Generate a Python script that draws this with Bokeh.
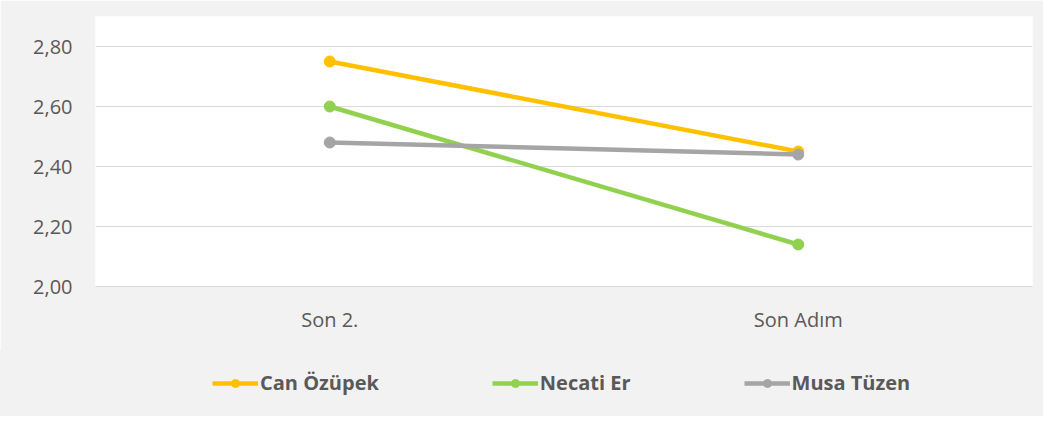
from bokeh.plotting import figure
from bokeh.layouts import column
from bokeh.models import (FactorRange, Range1d, FixedTicker, Legend, LegendItem)
from bokeh.embed import file_html
from bokeh.resources import INLINE

categories = ["Son 2.", "Son Adım"]
series_names = ["Can Özüpek", "Necati Er", "Musa Tüzen"]
can_ozupek = [2.75, 2.45]
necati_er = [2.60, 2.14]
musa_tuzen = [2.48, 2.44]
series_values = [can_ozupek, necati_er, musa_tuzen]
colors = ["#FFC000", "#92D050", "#A5A5A5"]
y_ticks = [2.0, 2.2, 2.4, 2.6, 2.8]
y_tick_labels = ["2,00", "2,20", "2,40", "2,60", "2,80"]

FONT = "Open Sans"
TXT = "#595959"
BG = "#F2F2F2"

p = figure(width=1043, height=350, output_backend="svg", toolbar_location=None,
           x_range=FactorRange(*categories, range_padding=0),
           y_range=Range1d(2.0, 2.9),
           min_border_left=95, min_border_right=11, min_border_top=16,
           min_border_bottom=64)
p.background_fill_color = "white"
p.border_fill_color = BG
p.outline_line_color = None

for name, vals, col in zip(series_names, series_values, colors):
    p.line(categories, vals, line_color=col, line_width=4.5)
    p.scatter(categories, vals, size=11, fill_color=col, line_color=col)

p.yaxis.ticker = FixedTicker(ticks=y_ticks)
p.yaxis.major_label_overrides = dict(zip(y_ticks, y_tick_labels))
p.yaxis.axis_line_color = None
p.yaxis.major_tick_line_color = None
p.yaxis.minor_tick_line_color = None
p.yaxis.major_label_standoff = 17
p.yaxis.major_label_text_font = FONT
p.yaxis.major_label_text_font_size = "20px"
p.yaxis.major_label_text_color = TXT

p.xaxis.axis_line_color = "#D9D9D9"
p.xaxis.axis_line_width = 1
p.xaxis.major_tick_line_color = None
p.xaxis.minor_tick_line_color = None
p.xaxis.major_label_standoff = 13
p.xaxis.major_label_text_font = FONT
p.xaxis.major_label_text_font_size = "20px"
p.xaxis.major_label_text_color = TXT

p.xgrid.grid_line_color = None
p.ygrid.grid_line_color = "#D9D9D9"
p.ygrid.grid_line_width = 1

# legend strip below the chart (series drawn out of its visible range,
# only their legend glyphs show)
lg = figure(width=1043, height=66, output_backend="svg", toolbar_location=None,
            x_range=FactorRange(*categories, range_padding=0),
            y_range=Range1d(0, 1),
            min_border_left=95, min_border_right=11, min_border_top=0,
            min_border_bottom=0)
lg.axis.visible = False
lg.grid.visible = False
lg.outline_line_color = None
lg.background_fill_color = None
lg.border_fill_color = None
lg.styles = {"background-color": BG}

items = []
for name, vals, col in zip(series_names, series_values, colors):
    l = lg.line(categories, vals, line_color=col, line_width=4.5)
    s = lg.scatter(categories, vals, size=11, fill_color=col, line_color=col)
    items.append(LegendItem(label=name, renderers=[l, s]))

legend = Legend(items=items, orientation="horizontal", location=(117, 20),
                glyph_width=46, glyph_height=20, label_standoff=2, spacing=113,
                padding=0, margin=0, border_line_color=None,
                background_fill_alpha=0,
                label_text_font=FONT, label_text_font_size="20px",
                label_text_font_style="bold", label_text_color=TXT,
                label_height=20)
lg.add_layout(legend, "center")

layout = column(p, lg, spacing=0)
open("out.html", "w").write(file_html(layout, INLINE))
